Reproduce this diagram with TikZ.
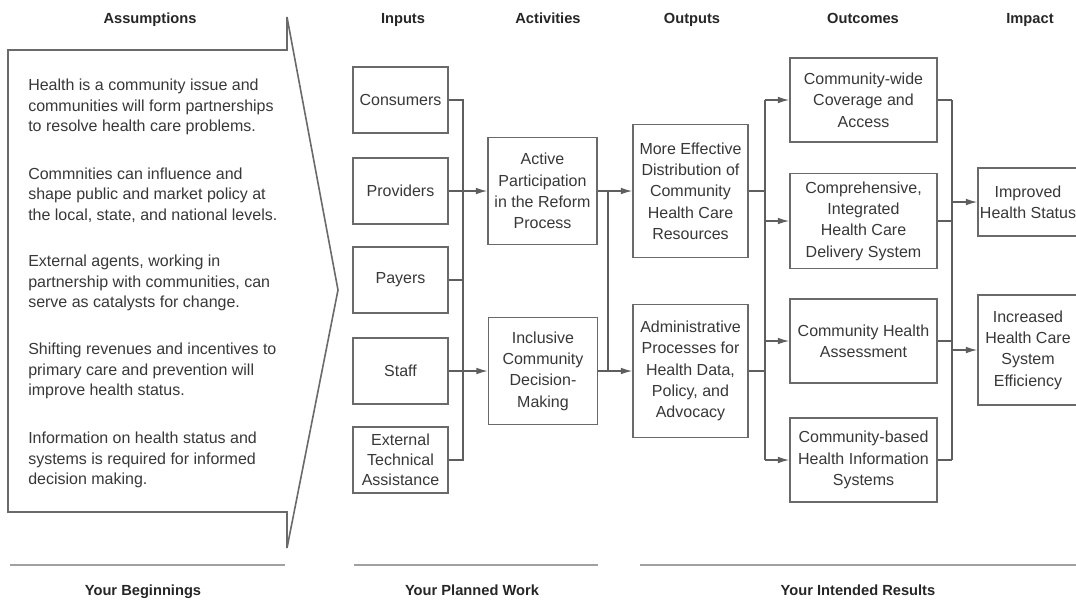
\documentclass[tikz,border=0pt]{standalone}
\usepackage{fontspec}
\setmainfont{Liberation Sans}
\usetikzlibrary{arrows.meta}
\definecolor{boxc}{HTML}{6A6A6A}
\definecolor{linec}{HTML}{5E5E5E}
\definecolor{txt}{HTML}{383838}
\definecolor{rulec}{HTML}{A0A0A0}
\begin{document}
\begin{tikzpicture}[x=0.75pt,y=-0.75pt,
 box/.style={draw=boxc,line width=1.2pt,fill=white,align=center,inner sep=1pt,font=\fontsize{12}{16}\selectfont,text=txt},
 inbox/.style={box,minimum width=71.25pt,minimum height=49.5pt},
 actbox/.style={box,minimum width=81.75pt,minimum height=80.25pt},
 outbox/.style={box,minimum width=86.25pt,minimum height=99.75pt},
 ocbox/.style={box,minimum width=110.25pt,minimum height=63pt},
 impbox/.style={box,minimum width=75pt},
 conn/.style={draw=linec,line width=1pt},
 arr/.style={conn,-{Latex[length=8.5pt,width=5pt]}},
 head/.style={font=\fontsize{11}{13}\selectfont\bfseries,text=black!85,anchor=base,inner sep=0pt},
 body/.style={font=\fontsize{12}{15.4}\selectfont,text=txt,align=left,anchor=west,inner sep=0pt}
]
\useasboundingbox (0,0) rectangle (1076,601);
\clip (0,0) rectangle (1076,601);
\fill[white] (0,0) rectangle (1076,601);

% assumptions arrow shape
\draw[boxc,line width=1.2pt] (8,50) -- (287,50) -- (287,17) -- (338,290) -- (287,548) -- (287,512) -- (8,512) -- cycle;

\node[body] (p1) at (28,107) {Health is a community issue and\\communities will form partnerships\\to resolve health care problems.};
\node[body] (p2) at (28,195) {Commnities can influence and\\shape public and market policy at\\the local, state, and national levels.};
\node[body] (p3) at (28,283) {External agents, working in\\partnership with communities, can\\serve as catalysts for change.};
\node[body] (p4) at (28,371) {Shifting revenues and incentives to\\primary care and prevention will\\improve health status.};
\node[body] (p5) at (28,460) {Information on health status and\\systems is required for informed\\decision making.};

% headers
\node[head] (hA) at (150,23) {Assumptions};
\node[head] (hI) at (403,23) {Inputs};
\node[head] (hAc) at (548,23) {Activities};
\node[head] (hO) at (692,23) {Outputs};
\node[head] (hOc) at (863,23) {Outcomes};
\node[head] (hIm) at (1030,23) {Impact};

% inputs
\node[inbox] (cons) at (400.5,100) {Consumers};
\node[inbox] (prov) at (400.5,191) {Providers};
\node[inbox] (pay) at (400.5,280) {Payers};
\node[inbox] (staff) at (400.5,371) {Staff};
\node[inbox,font=\fontsize{12}{15}\selectfont] (ext) at (400.5,460) {External\\Technical\\Assistance};

% activities
\node[actbox] (act) at (542.5,191) {Active\\Participation\\in the Reform\\Process};
\node[actbox] (incl) at (543,371) {Inclusive\\Community\\Decision-\\Making};

% outputs
\node[outbox] (more) at (690.5,191) {More Effective\\Distribution of\\Community\\Health Care\\Resources};
\node[outbox] (admin) at (690.5,371) {Administrative\\Processes for\\Health Data,\\Policy, and\\Advocacy};

% outcomes
\node[ocbox] (cov) at (863.5,100) {Community-wide\\Coverage and\\Access};
\node[ocbox,minimum height=71.25pt] (comp) at (863.5,221) {Comprehensive,\\Integrated\\Health Care\\Delivery System};
\node[ocbox] (assess) at (863.5,341) {Community Health\\Assessment};
\node[ocbox] (info) at (863.5,460) {Community-based\\Health Information\\Systems};

% impact
\node[impbox,minimum height=51pt] (impr) at (1028,202) {Improved\\Health Status};
\node[impbox,minimum height=82.5pt] (incr) at (1028,350) {Increased\\Health Care\\System\\Efficiency};

% bus coordinates
\coordinate (bA) at (463,0);
\coordinate (bB) at (608,0);
\coordinate (bC) at (765,0);
\coordinate (bD) at (952,0);

% inputs to activities
\draw[conn] (cons.east) -- (cons.east -| bA) -- (ext.east -| bA) -- (ext.east);
\draw[conn] (pay.east) -- (pay.east -| bA);
\draw[arr] (prov.east) -- (prov.east -| act.west);
\draw[arr] (staff.east) -- (staff.east -| incl.west);

% activities to outputs
\draw[arr] (act.east) -- (act.east -| more.west);
\draw[arr] (incl.east) -- (incl.east -| admin.west);
\draw[conn] (act.east -| bB) -- (incl.east -| bB);

% outputs to outcomes
\draw[conn] (more.east) -- (more.east -| bC);
\draw[conn] (admin.east) -- (admin.east -| bC);
\draw[conn] (cov.west -| bC) -- (info.west -| bC);
\foreach \n in {cov,comp,assess,info} \draw[arr] (\n.west -| bC) -- (\n.west);

% outcomes to impact
\foreach \n in {cov,comp,assess,info} \draw[conn] (\n.east) -- (\n.east -| bD);
\draw[conn] (cov.east -| bD) -- (info.east -| bD);
\draw[arr] (impr.west -| bD) -- (impr.west);
\draw[arr] (incr.west -| bD) -- (incr.west);

% bottom rules and labels
\draw[rulec,line width=2.2pt] (10,565) -- (285,565);
\draw[rulec,line width=2.2pt] (354,565) -- (598,565);
\draw[rulec,line width=2.2pt] (640,565) -- (1076,565);
\node[head] (fB) at (143,595) {Your Beginnings};
\node[head] (fP) at (472,595) {Your Planned Work};
\node[head] (fR) at (858,595) {Your Intended Results};
\end{tikzpicture}
\end{document}
